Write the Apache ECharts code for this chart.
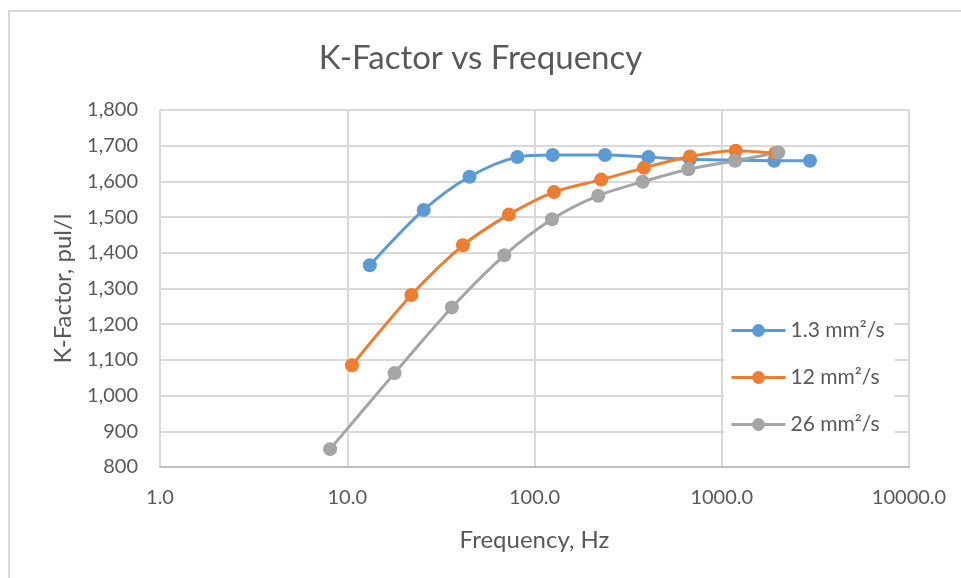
<!DOCTYPE html>
<html>
<head>
<meta charset="utf-8">
<title>K-Factor vs Frequency</title>
<script src="https://cdn.jsdelivr.net/npm/echarts@6/dist/echarts.min.js"></script>
<style>
  html, body { margin: 0; padding: 0; background: #fff; }
  #chart { width: 961px; height: 578px; }
</style>
</head>
<body>
<div id="chart"></div>
<script>
// values
const seriesNames = ["1.3 mm²/s", "12 mm²/s", "26 mm²/s"];

const freq13 = [13.2, 25.6, 45, 81, 125, 238, 406, 677, 1180, 1905, 2960];
const kfac13 = [1365, 1520, 1613, 1668, 1674, 1674, 1668, 1662, 1659, 1658, 1658];

const freq12 = [10.6, 22, 41.5, 73, 127, 227, 384, 677, 1187, 1930];
const kfac12 = [1085, 1282, 1421, 1507, 1570, 1605, 1638, 1670, 1686, 1679];

const freq26 = [8.1, 17.9, 36.2, 69, 124, 219, 378, 663, 1177, 2005];
const kfac26 = [850, 1063, 1247, 1393, 1494, 1560, 1599, 1634, 1658, 1681];

const xTicks = [1, 10, 100, 1000, 10000];

const colors = ["#5B9BD5", "#ED7D31", "#A5A5A5"];
const FONT = "Lato";
const TEXT = "#595959";

const pair = (xs, ys) => xs.map((x, i) => [x, ys[i]]);

const chart = echarts.init(document.getElementById("chart"));

const makeSeries = (name, xs, ys, color) => ({
  name: name,
  type: "line",
  data: pair(xs, ys),
  smooth: 0.3,
  symbol: "circle",
  symbolSize: 14,
  lineStyle: { color: color, width: 3 },
  itemStyle: { color: color },
  emphasis: { disabled: true },
});

const option = {
  animation: false,
  color: colors,
  textStyle: { fontFamily: FONT },
  graphic: [
    {
      type: "rect",
      shape: { x: 9, y: 11, width: 1000, height: 700 },
      style: { fill: "none", stroke: "#d9d9d9", lineWidth: 2 },
      silent: true,
    },
  ],
  title: {
    text: "K-Factor vs Frequency",
    left: "center",
    top: 37,
    textStyle: { fontFamily: FONT, fontSize: 33, fontWeight: "normal", color: TEXT },
  },
  grid: { left: 160, right: 52, top: 110, bottom: 111 },
  legend: {
    data: seriesNames,
    orient: "vertical",
    left: 724,
    top: 314,
    itemWidth: 54,
    itemHeight: 16,
    itemGap: 26,
    padding: [6, 10, 6, 6],
    backgroundColor: "#fff",
    lineStyle: { width: 3 },
    textStyle: { fontFamily: FONT, fontSize: 21, color: TEXT },
  },
  xAxis: {
    type: "log",
    logBase: 10,
    min: xTicks[0],
    max: xTicks[xTicks.length - 1],
    name: "Frequency, Hz",
    nameLocation: "middle",
    nameGap: 61,
    nameTextStyle: { fontFamily: FONT, fontSize: 24, color: TEXT },
    axisLine: { show: true, lineStyle: { color: "#bfbfbf", width: 2 } },
    axisTick: { show: false },
    axisLabel: {
      margin: 21,
      fontFamily: FONT,
      fontSize: 20,
      color: TEXT,
      formatter: (v) => Number(v).toFixed(1),
    },
    splitLine: { show: true, lineStyle: { color: "#d9d9d9", width: 2 } },
  },
  yAxis: {
    type: "value",
    min: 800,
    max: 1800,
    interval: 100,
    name: "K-Factor, pul/l",
    nameLocation: "middle",
    nameGap: 85,
    nameTextStyle: { fontFamily: FONT, fontSize: 24, color: TEXT },
    axisLine: { show: false },
    axisTick: { show: false },
    axisLabel: {
      margin: 22,
      fontFamily: FONT,
      fontSize: 20,
      color: TEXT,
      formatter: (v) => v.toLocaleString("en-US"),
    },
    splitLine: { show: true, lineStyle: { color: "#d9d9d9", width: 2 } },
  },
  series: [
    makeSeries(seriesNames[0], freq13, kfac13, colors[0]),
    makeSeries(seriesNames[1], freq12, kfac12, colors[1]),
    makeSeries(seriesNames[2], freq26, kfac26, colors[2]),
  ],
};

chart.setOption(option);
</script>
</body>
</html>
